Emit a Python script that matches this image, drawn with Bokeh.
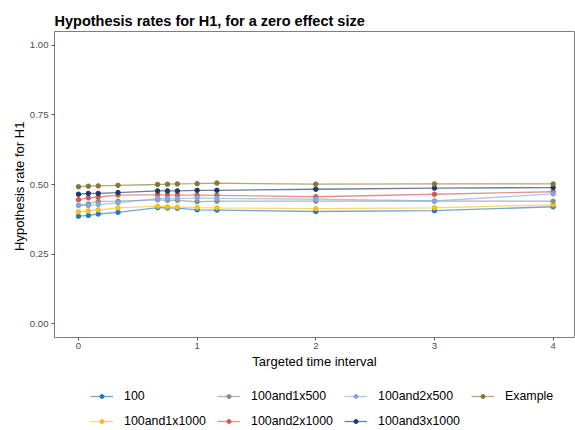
from bokeh.plotting import figure
from bokeh.models import Legend, LegendItem, FixedTicker, Range1d, NumeralTickFormatter
from bokeh.layouts import column
from bokeh.embed import file_html
from bokeh.resources import INLINE

# Targeted time interval (years)
x_vals = [0, 1/12, 1/6, 1/3, 2/3, 3/4, 5/6, 1, 7/6, 2, 3, 4]

s_100 = [0.386, 0.389, 0.394, 0.400, 0.417, 0.416, 0.415, 0.409, 0.408, 0.403, 0.406, 0.420]
s_100and1x1000 = [0.402, 0.405, 0.409, 0.416, 0.422, 0.420, 0.419, 0.417, 0.416, 0.413, 0.416, 0.427]
s_100and1x500 = [0.425, 0.430, 0.439, 0.440, 0.445, 0.443, 0.443, 0.438, 0.440, 0.440, 0.440, 0.440]
s_100and2x1000 = [0.445, 0.452, 0.455, 0.462, 0.463, 0.463, 0.462, 0.462, 0.461, 0.456, 0.465, 0.474]
s_100and2x500 = [0.425, 0.424, 0.428, 0.434, 0.449, 0.449, 0.449, 0.452, 0.450, 0.447, 0.441, 0.466]
s_100and3x1000 = [0.465, 0.468, 0.468, 0.471, 0.477, 0.477, 0.477, 0.479, 0.479, 0.483, 0.487, 0.489]
s_example = [0.492, 0.494, 0.495, 0.497, 0.500, 0.501, 0.502, 0.503, 0.505, 0.501, 0.502, 0.502]

series_names = ["100", "100and1x1000", "100and1x500", "100and2x1000", "100and2x500", "100and3x1000", "Example"]
series_values = [s_100, s_100and1x1000, s_100and1x500, s_100and2x1000, s_100and2x500, s_100and3x1000, s_example]
series_colors = ["#1F78C4", "#F2C11B", "#8C8C8C", "#DA5650", "#80A9DF", "#163A69", "#8B7535"]

y_ticks = [0, 0.25, 0.5, 0.75, 1.0]
x_ticks = [0, 1, 2, 3, 4]

FONT = "Liberation Sans"

p = figure(width=575, height=375, output_backend="svg", toolbar_location=None,
           x_range=Range1d(-0.202, 4.18), y_range=Range1d(-0.05, 1.05),
           min_border_left=54, min_border_right=1, min_border_top=31, min_border_bottom=38)
p.background_fill_color = "white"
p.border_fill_color = "white"
p.outline_line_color = "#7F7F7F"
p.outline_line_width = 1
p.xgrid.visible = False
p.ygrid.visible = False

p.title.text = "Hypothesis rates for H1, for a zero effect size"
p.title.text_font = FONT
p.title.text_font_size = "14.5px"
p.title.text_font_style = "bold"
p.title.text_color = "black"
p.title.align = "left"
p.title.standoff = 6

for name, vals, col in zip(series_names, series_values, series_colors):
    p.line(x_vals, vals, line_color=col, line_width=1.3, line_alpha=0.65)
    p.scatter(x_vals, vals, size=4.5, fill_color=col, line_color=col)

for ax in (p.xaxis[0], p.yaxis[0]):
    ax.axis_line_color = None
    ax.major_tick_line_color = "#555555"
    ax.major_tick_in = 0
    ax.major_tick_out = 3
    ax.minor_tick_line_color = None
    ax.major_label_text_font = FONT
    ax.major_label_text_font_size = "9.6px"
    ax.major_label_text_color = "#4D4D4D"
    ax.axis_label_text_font = FONT
    ax.axis_label_text_font_size = "13px"
    ax.axis_label_text_font_style = "normal"
    ax.axis_label_text_color = "black"

p.xaxis.ticker = FixedTicker(ticks=x_ticks)
p.yaxis.ticker = FixedTicker(ticks=y_ticks)
p.yaxis.formatter = NumeralTickFormatter(format="0.00")
p.xaxis.axis_label = "Targeted time interval"
p.yaxis.axis_label = "Hypothesis rate  for H1"
p.xaxis.major_label_standoff = 2
p.xaxis.axis_label_standoff = 2
p.yaxis.major_label_standoff = 3
p.yaxis.axis_label_standoff = 0

# Legend panel below the plot (series drawn out of its view; only legend shows)
lg = figure(width=575, height=55, output_backend="svg", toolbar_location=None,
            x_range=Range1d(0, 1), y_range=Range1d(10, 11),
            min_border_left=0, min_border_right=0, min_border_top=0, min_border_bottom=0)
lg.axis.visible = False
lg.grid.visible = False
lg.outline_line_color = None
lg.background_fill_color = "white"
lg.border_fill_color = "white"

leg_renderers = {}
for name, vals, col in zip(series_names, series_values, series_colors):
    l = lg.line(x_vals, vals, line_color=col, line_width=1.3, line_alpha=0.65)
    s = lg.scatter(x_vals, vals, size=4.5, fill_color=col, line_color=col)
    leg_renderers[name] = [l, s]

order = ["100", "100and1x500", "100and2x500", "Example", "100and1x1000", "100and2x1000", "100and3x1000"]
items = [LegendItem(label=n, renderers=leg_renderers[n]) for n in order]
legend = Legend(items=items, orientation="horizontal", ncols=4, location=(36, 2),
                label_text_font=FONT, label_text_font_size="12.4px", label_text_color="black",
                glyph_width=23, glyph_height=10, label_height=12, label_standoff=11,
                spacing=11, padding=0, margin=0, border_line_color=None,
                background_fill_alpha=0)
lg.add_layout(legend, "center")

layout = column(p, lg, spacing=0)
open("out.html", "w").write(file_html(layout, INLINE))
